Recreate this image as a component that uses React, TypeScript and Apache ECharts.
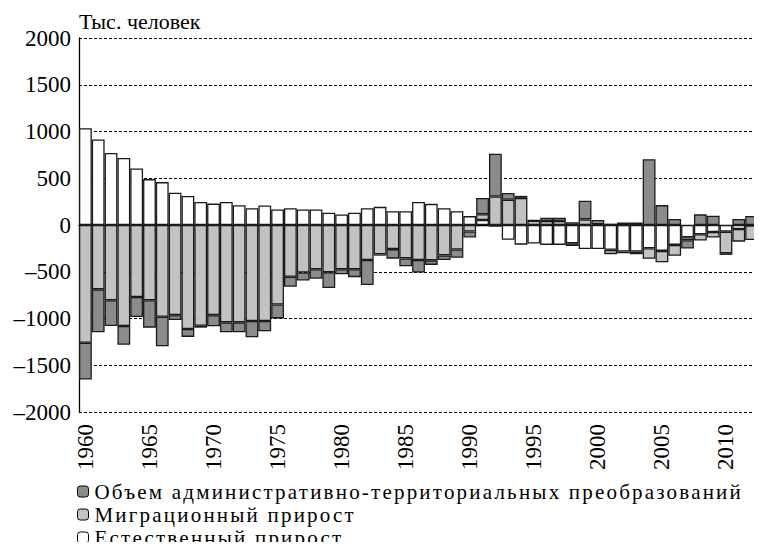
import React, { useEffect, useRef } from "react";
import * as echarts from "echarts";

const years = [
  "1960", "1961", "1962", "1963", "1964", "1965", "1966", "1967", "1968", "1969",
  "1970", "1971", "1972", "1973", "1974", "1975", "1976", "1977", "1978", "1979",
  "1980", "1981", "1982", "1983", "1984", "1985", "1986", "1987", "1988", "1989",
  "1990", "1991", "1992", "1993", "1994", "1995", "1996", "1997", "1998", "1999",
  "2000", "2001", "2002", "2003", "2004", "2005", "2006", "2007", "2008", "2009",
  "2010", "2011", "2012",
];

const naturalIncrease = [
  1035, 914, 770, 717, 604, 491, 459, 346, 311, 247,
  229, 247, 212, 180, 208, 166, 180, 166, 166, 131,
  113, 131, 180, 194, 148, 148, 247, 226, 180, 148,
  95, 53, -18, -158, -210, -198, -213, -213, -195, -256,
  -256, -266, -284, -284, -248, -277, -213, -131, -99, -75,
  -71, -43, -5,
];

const migrationIncrease = [
  -1260, -688, -805, -1080, -770, -805, -981, -964, -1112, -1077,
  -964, -1041, -1041, -1027, -1027, -851, -554, -508, -473, -505,
  -473, -473, -374, -314, -258, -357, -374, -378, -325, -262,
  -70, 62, 305, 270, 290, 46, 43, 43, 30, 60,
  8, -46, 28, -28, -114, -121, -117, -32, -67, -60,
  -231, -135, -155,
];

const adminTransform = [
  -392, -459, -275, -201, -215, -293, -315, -53, -85, -21,
  -120, -106, -106, -173, -110, -148, -106, -85, -102, -169,
  -53, -85, -268, -14, -102, -84, -134, -49, -49, -88,
  -63, 175, 458, 73, 22, 4, 35, 35, -30, 199,
  45, 15, -18, 28, 703, 213, 64, -89, 114, 99,
  -18, 64, 96,
];

const yTicks = { min: -2000, max: 2000, interval: 500 };

const seriesNames = {
  natural: "Естественный прирост",
  migration: "Миграционный прирост",
  admin: "Объем административно-территориальных преобразований",
};

const legendOrder = [seriesNames.admin, seriesNames.migration, seriesNames.natural];

const unitLabel = "Тыс. человек";

const FONT = "Liberation Serif";

export default function App() {
  const ref = useRef<HTMLDivElement>(null);

  useEffect(() => {
    const el = ref.current;
    if (!el) return;
    const chart = echarts.init(el, undefined, { renderer: "svg" });
    const barStyle = (color: string) => ({
      color,
      borderColor: "#1a1a1a",
      borderWidth: 1.3,
    });
    chart.setOption({
      animation: false,
      backgroundColor: "#fff",
      textStyle: { fontFamily: FONT, color: "#000" },
      title: {
        text: unitLabel,
        left: 79,
        top: 10,
        padding: 0,
        textStyle: { fontFamily: FONT, fontSize: 22, fontWeight: "normal", color: "#000" },
      },
      legend: {
        orient: "vertical",
        left: 77,
        top: 481,
        height: 72,
        padding: 0,
        itemWidth: 11,
        itemHeight: 11,
        itemGap: 2,
        selectedMode: false,
        data: legendOrder,
        itemStyle: { borderColor: "#000", borderWidth: 1 },
        textStyle: {
          fontFamily: FONT,
          fontSize: 21,
          lineHeight: 21,
          color: "#000",
          padding: [0, 0, 0, 1],
        },
      },
      grid: { left: 79, right: 4, top: 38, bottom: 138, containLabel: false },
      xAxis: {
        type: "category",
        data: years,
        axisLine: { show: true, lineStyle: { color: "#000", width: 1.3 } },
        axisTick: { show: false },
        axisLabel: {
          interval: 4,
          rotate: 90,
          margin: 12,
          fontFamily: FONT,
          fontSize: 23,
          color: "#000",
        },
      },
      yAxis: {
        type: "value",
        min: yTicks.min,
        max: yTicks.max,
        interval: yTicks.interval,
        axisLine: { show: true, lineStyle: { color: "#000", width: 1.3 } },
        axisTick: { show: false },
        axisLabel: {
          margin: 8,
          fontFamily: FONT,
          fontSize: 23,
          color: "#000",
          formatter: (v: number) => (v < 0 ? "\u2013" + Math.abs(v) : String(v)),
        },
        splitLine: { show: true, lineStyle: { color: "#000", width: 1, type: [3, 2] } },
      },
      series: [
        {
          name: seriesNames.natural,
          type: "bar",
          stack: "total",
          barCategoryGap: "0%",
          data: naturalIncrease,
          itemStyle: barStyle("#ffffff"),
        },
        {
          name: seriesNames.migration,
          type: "bar",
          stack: "total",
          barCategoryGap: "0%",
          data: migrationIncrease,
          itemStyle: barStyle("#c2c2c2"),
        },
        {
          name: seriesNames.admin,
          type: "bar",
          stack: "total",
          barCategoryGap: "0%",
          data: adminTransform,
          itemStyle: barStyle("#8b8b8b"),
        },
      ],
    });

    const spaceLegend = () => {
      el.querySelectorAll("text").forEach((node) => {
        const t = node as SVGTextElement;
        if (legendOrder.includes((t.textContent || "").trim())) {
          t.style.letterSpacing = "2.2px";
        }
      });
    };
    spaceLegend();
    chart.on("finished", spaceLegend);
    const raf = requestAnimationFrame(spaceLegend);

    return () => {
      cancelAnimationFrame(raf);
      chart.dispose();
    };
  }, []);

  return <div ref={ref} style={{ width: 762, height: 550, margin: -8 }} />;
}
